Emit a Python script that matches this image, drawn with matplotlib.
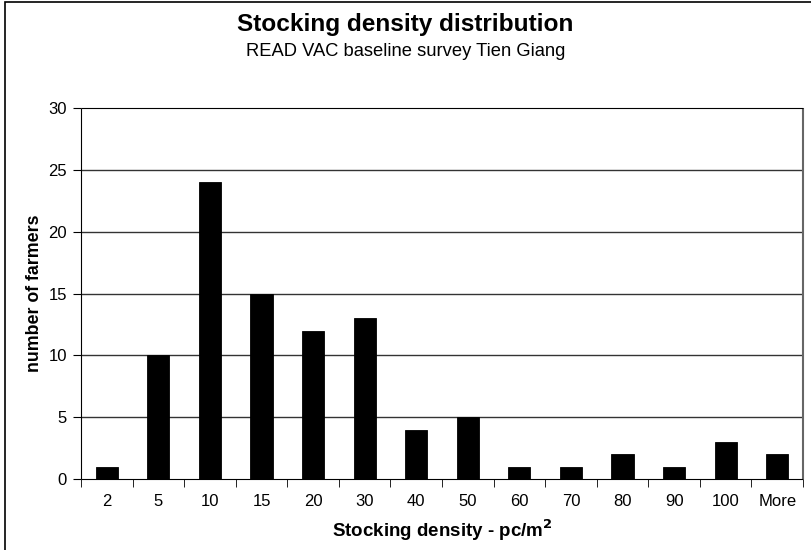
import numpy as np
from matplotlib import pyplot as plt
from matplotlib.patches import Rectangle

plt.rcParams['font.family'] = ['Liberation Sans', 'DejaVu Sans']

categories = ['2', '5', '10', '15', '20', '30', '40', '50', '60', '70', '80', '90', '100', 'More']
farmers = [1, 10, 24, 15, 12, 13, 4, 5, 1, 1, 2, 1, 3, 2]
y_ticks = list(range(0, 31, 5))

fig = plt.figure(figsize=(8.11, 5.5), dpi=100)
ax = fig.add_axes([81 / 811, 1 - 479 / 550, (803 - 81) / 811, (479 - 108) / 550])

x = np.arange(len(categories))
ax.bar(x, farmers, width=0.43, color='black', edgecolor='black', linewidth=0.6, zorder=3)

ax.set_xlim(-0.5, len(categories) - 0.5)
ax.set_ylim(0, 30)
ax.set_yticks(y_ticks)
# horizontal gridlines inside the frame only
for yv in y_ticks[1:-1]:
    ax.axhline(yv, color='#333333', linewidth=1.0, zorder=1)

# category labels centred, ticks between categories
ax.set_xticks(x)
ax.set_xticklabels(categories, fontsize=12)
ax.tick_params(axis='x', length=0, pad=11)
ax.set_xticks(np.arange(-0.5, len(categories), 1), minor=True)
ax.tick_params(axis='x', which='minor', length=6, direction='out', color='black')
ax.tick_params(axis='y', length=6, direction='out', labelsize=12, pad=4, right=False)

for side in ['left', 'bottom', 'top']:
    ax.spines[side].set_color('black')
    ax.spines[side].set_capstyle('butt')
ax.spines['right'].set_color('#666666')
ax.spines['right'].set_linewidth(1.5)
ax.spines['right'].set_capstyle('butt')

ax.set_xlabel('Stocking density - pc/m$^\\mathbf{2}$', fontsize=13.5, fontweight='bold', labelpad=6)
ax.set_ylabel('number of farmers', fontsize=12.8, fontweight='bold', labelpad=4)

fig.text(0.5, 1 - 25 / 550, 'Stocking density distribution', ha='center', va='center',
         fontsize=17.6, fontweight='bold')
fig.text(0.5, 1 - 51 / 550, 'READ VAC baseline survey Tien Giang', ha='center', va='center',
         fontsize=13.2)

# outer chart border (cropped on right and bottom)
fig.patches.append(Rectangle((5 / 811, -0.1), 1.2, 1 - 2 / 550 + 0.1, transform=fig.transFigure,
                             fill=False, edgecolor='black', linewidth=1.2))

fig.savefig('out.png', dpi=100)
